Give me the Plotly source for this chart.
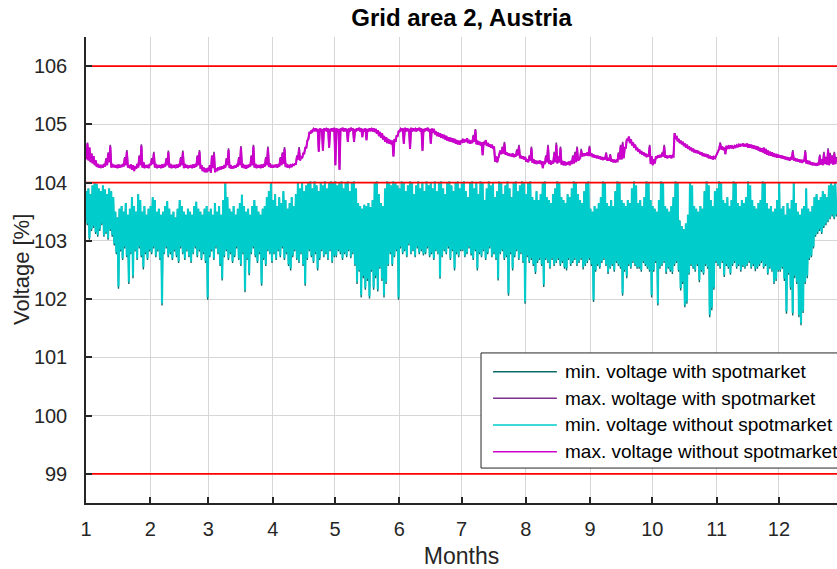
import numpy as np
import plotly.graph_objects as go

# ---------------------------------------------------------------------------
# Axis ticks and limits
# ---------------------------------------------------------------------------
month_start_days = [0, 31, 59, 90, 120, 151, 181, 212, 243, 273, 304, 334]
month_labels = ["1", "2", "3", "4", "5", "6", "7", "8", "9", "10", "11", "12"]
voltage_ticks = [99, 100, 101, 102, 103, 104, 105, 106]
limit_levels = [99, 104, 106]
last_day = 362

series_names = [
    "min. voltage with spotmarket",
    "max. woltage with spotmarket",
    "min. voltage without spotmarket",
    "max. voltage without spotmarket",
]
series_colors = ["#0a6b6b", "#7e2f8e", "#00cccc", "#cc00cc"]
series_widths = [1.4, 1.6, 2.1, 2.1]

# ---------------------------------------------------------------------------
# Daily values [%], one row per month
# ---------------------------------------------------------------------------
# daily highest value of the minimum voltage (both scenarios)
min_top = [
    103.85, 103.9, 103.8, 103.95, 104.0, 103.98, 103.9, 103.85, 103.95, 103.88, 103.8, 103.9, 103.85, 103.75, 103.5, 103.4, 103.55, 103.6, 103.5, 103.65, 103.45, 103.55, 103.75, 103.6, 103.5, 103.8, 103.7, 103.5, 103.6, 103.45, 103.55,
    103.6, 103.75, 103.7, 103.5, 103.55, 103.45, 103.5, 103.6, 103.68, 103.55, 103.45, 103.5, 103.4, 103.55, 103.7, 103.6, 103.5, 103.45, 103.55, 103.5, 103.45, 103.6, 103.67, 103.55, 103.5, 103.45, 103.55, 103.6,
    103.5, 103.55, 103.45, 103.65, 103.5, 103.6, 103.45, 103.7, 103.99, 103.75, 103.55, 103.5, 103.6, 103.45, 103.55, 103.65, 103.79, 103.6, 103.5, 103.55, 103.45, 103.6, 103.7, 103.6, 103.5, 103.45, 103.55, 103.6, 103.75, 103.85, 104.0,
    103.7, 103.8, 103.6, 103.75, 103.65, 103.85, 103.7, 103.55, 103.65, 103.75, 103.6, 103.8, 104.0, 103.9, 104.0, 103.85, 103.95, 104.0, 104.02, 103.9, 104.02, 103.95, 103.85, 104.0, 103.95, 104.02, 103.9, 104.0, 104.02, 104.0,
    104.02, 103.95, 104.0, 104.02, 103.9, 104.0, 104.02, 103.85, 104.0, 104.02, 103.9, 103.65, 103.6, 103.55, 103.62, 103.6, 103.65, 103.58, 103.7, 104.0, 104.02, 103.8, 103.65, 103.6, 103.9, 104.02, 104.0, 103.95, 104.02, 104.0, 103.95,
    103.9, 104.02, 104.0, 103.85, 103.95, 104.02, 104.0, 103.8, 103.95, 104.02, 103.9, 104.0, 103.85, 104.02, 103.95, 104.0, 103.9, 104.02, 103.85, 104.0, 104.02, 103.9, 103.8, 104.0, 104.02, 103.95, 103.85, 104.0, 104.02, 103.9,
    104.0, 104.02, 103.85, 103.75, 104.0, 104.02, 103.9, 104.0, 103.8, 104.02, 104.0, 103.7, 103.9, 104.02, 103.95, 104.0, 103.75, 103.85, 104.02, 104.0, 103.8, 103.95, 104.02, 103.9, 103.75, 104.0, 104.02, 103.85, 103.95, 104.02, 104.0,
    103.8, 104.0, 104.02, 103.75, 103.7, 103.85, 103.7, 103.8, 104.0, 104.02, 103.75, 103.7, 103.65, 103.8, 103.9, 104.02, 104.0, 103.75, 103.7, 103.65, 103.8, 103.75, 103.9, 104.02, 104.0, 103.8, 103.7, 103.65, 103.85, 104.0, 104.02,
    103.55, 103.5, 103.6, 103.55, 103.65, 103.75, 104.02, 104.0, 103.65, 103.6, 103.7, 103.6, 103.85, 104.02, 104.0, 103.7, 103.65, 103.6, 103.7, 103.65, 103.9, 104.02, 103.95, 103.65, 103.7, 103.6, 103.75, 104.02, 104.0, 103.7,
    103.6, 103.55, 103.5, 103.7, 104.02, 104.0, 103.6, 103.55, 103.5, 103.6, 103.75, 104.02, 104.0, 103.35, 103.25, 103.2, 103.3, 103.45, 104.0, 103.95, 103.6, 103.55, 103.5, 103.6, 103.55, 103.85, 104.02, 103.95, 103.7, 103.6, 103.85,
    103.9, 104.02, 104.0, 103.7, 103.65, 103.75, 103.6, 103.7, 104.02, 104.0, 103.65, 103.6, 103.7, 103.65, 103.75, 104.02, 103.95, 103.7, 103.6, 103.55, 103.65, 103.7, 104.02, 104.0, 103.65, 103.55, 103.6, 103.5, 103.55, 103.7,
    104.0, 103.55, 103.6, 103.45, 103.65, 103.55, 103.7, 104.0, 103.65, 103.5, 103.45, 103.55, 103.6, 103.9, 103.55, 103.5, 103.6, 103.75, 103.8, 103.7, 103.75, 103.85, 103.8, 103.75, 103.95, 104.0, 103.95, 104.0,
]

# daily lowest value of the minimum voltage without spotmarket
min_low = [
    103.3, 103.05, 103.2, 103.25, 103.15, 103.1, 103.2, 103.3, 103.1, 103.15, 103.05, 103.2, 103.1, 102.95, 102.8, 102.22, 102.85, 102.7, 102.9, 102.75, 102.3, 102.8, 102.4, 102.85, 102.7, 102.9, 102.75, 102.55, 102.8, 102.7, 102.85,
    102.8, 102.9, 102.75, 102.85, 102.7, 101.93, 102.8, 102.9, 102.75, 102.8, 102.7, 102.85, 102.75, 102.65, 102.9, 102.8, 102.7, 102.85, 102.75, 102.65, 102.8, 102.9, 102.75, 102.85, 102.7, 102.8, 102.65, 102.03,
    102.75, 102.85, 102.7, 102.9, 102.8, 102.6, 102.36, 102.75, 102.85, 102.7, 102.8, 102.65, 102.75, 102.9, 102.7, 102.6, 102.8, 102.16, 102.7, 102.45, 102.8, 102.9, 102.75, 102.65, 102.8, 102.27, 102.7, 102.6, 102.85, 102.8, 102.65,
    102.8, 102.7, 102.85, 102.75, 102.9, 102.7, 102.8, 102.6, 102.53, 102.75, 102.85, 102.7, 102.65, 102.8, 102.6, 102.27, 102.7, 102.85, 102.75, 102.65, 102.8, 102.53, 102.7, 102.85, 102.75, 102.8, 102.7, 102.85, 102.65, 102.75,
    102.75, 102.85, 102.8, 102.7, 102.8, 102.75, 102.85, 102.73, 102.8, 102.6, 102.3, 102.5, 102.07, 102.4, 102.2, 102.35, 102.05, 102.5, 102.2, 102.4, 102.17, 102.55, 102.35, 102.07, 102.3, 102.6, 102.8, 102.6, 102.75, 102.85, 102.03,
    102.9, 102.8, 102.85, 102.75, 102.95, 102.8, 102.85, 102.75, 102.9, 102.8, 102.85, 102.78, 102.8, 102.9, 102.75, 102.8, 102.7, 102.85, 102.8, 102.39, 102.75, 102.85, 102.8, 102.9, 102.7, 102.85, 102.53, 102.8, 102.75, 102.85,
    102.85, 102.75, 102.8, 102.9, 102.78, 102.7, 102.85, 102.53, 102.8, 102.75, 102.85, 102.7, 102.8, 102.9, 102.75, 102.8, 102.7, 102.36, 102.8, 102.85, 102.7, 102.75, 102.1, 102.8, 102.53, 102.75, 102.85, 102.7, 102.8, 102.65, 101.96,
    102.75, 102.65, 102.7, 102.6, 102.47, 102.65, 102.7, 102.6, 102.25, 102.7, 102.65, 102.55, 102.7, 102.6, 102.65, 102.7, 102.6, 102.65, 102.55, 102.53, 102.7, 102.6, 102.65, 102.7, 102.6, 102.65, 102.7, 102.55, 102.6, 102.65, 102.7,
    102.6, 101.99, 102.5, 102.6, 102.55, 102.65, 102.7, 102.6, 102.47, 102.55, 102.6, 102.5, 102.65, 102.6, 102.55, 102.1, 102.5, 102.4, 102.6, 102.55, 102.65, 102.6, 102.55, 102.55, 102.5, 102.65, 102.6, 102.55, 102.5, 102.07,
    102.5, 102.65, 101.93, 102.55, 102.6, 102.65, 102.47, 102.55, 102.5, 102.47, 102.6, 102.65, 102.5, 102.19, 102.3, 101.9, 101.96, 102.45, 102.6, 102.55, 102.5, 102.6, 102.33, 102.5, 102.45, 102.6, 102.55, 101.73, 101.85, 102.2, 102.65,
    102.6, 102.55, 102.65, 102.42, 102.6, 102.55, 102.45, 102.6, 102.65, 102.55, 102.6, 102.5, 102.58, 102.55, 102.6, 102.65, 102.55, 102.6, 102.52, 102.55, 102.6, 102.65, 102.55, 102.6, 102.45, 102.55, 102.5, 102.3, 102.35, 102.5,
    102.5, 102.55, 102.35, 101.79, 102.45, 102.2, 101.76, 102.4, 102.3, 101.73, 101.59, 101.8, 102.3, 102.4, 102.7, 102.75, 102.9, 103.1, 103.15, 103.2, 103.15, 103.25, 103.3, 103.35, 103.4, 103.45, 103.4, 103.45,
]

# daily lowest value of the minimum voltage with spotmarket
min_low_spot = [
    103.27, 103.02, 103.17, 103.22, 103.12, 103.07, 103.17, 103.27, 103.07, 103.12, 103.02, 103.17, 103.07, 102.92, 102.77, 102.18, 102.82, 102.67, 102.87, 102.72, 102.26, 102.77, 102.36, 102.82, 102.67, 102.87, 102.72, 102.51, 102.77, 102.67, 102.82,
    102.77, 102.87, 102.72, 102.82, 102.67, 101.89, 102.77, 102.87, 102.72, 102.77, 102.67, 102.82, 102.72, 102.62, 102.87, 102.77, 102.67, 102.82, 102.72, 102.62, 102.77, 102.87, 102.72, 102.82, 102.67, 102.77, 102.62, 101.99,
    102.72, 102.82, 102.67, 102.87, 102.77, 102.57, 102.32, 102.72, 102.82, 102.67, 102.77, 102.62, 102.72, 102.87, 102.67, 102.57, 102.77, 102.12, 102.67, 102.41, 102.77, 102.87, 102.72, 102.62, 102.77, 102.23, 102.67, 102.57, 102.82, 102.77, 102.62,
    102.77, 102.67, 102.82, 102.72, 102.87, 102.67, 102.77, 102.57, 102.49, 102.72, 102.82, 102.67, 102.62, 102.77, 102.57, 102.23, 102.67, 102.82, 102.72, 102.62, 102.77, 102.49, 102.67, 102.82, 102.72, 102.77, 102.67, 102.82, 102.62, 102.72,
    102.72, 102.82, 102.77, 102.67, 102.77, 102.72, 102.82, 102.7, 102.77, 102.57, 102.26, 102.47, 102.03, 102.36, 102.16, 102.31, 102.01, 102.47, 102.16, 102.36, 102.13, 102.52, 102.31, 102.03, 102.26, 102.57, 102.77, 102.57, 102.72, 102.82, 101.99,
    102.87, 102.77, 102.82, 102.72, 102.92, 102.77, 102.82, 102.72, 102.87, 102.77, 102.82, 102.75, 102.77, 102.87, 102.72, 102.77, 102.67, 102.82, 102.77, 102.35, 102.72, 102.82, 102.77, 102.87, 102.67, 102.82, 102.49, 102.77, 102.72, 102.82,
    102.82, 102.72, 102.77, 102.87, 102.75, 102.67, 102.82, 102.49, 102.77, 102.72, 102.82, 102.67, 102.77, 102.87, 102.72, 102.77, 102.67, 102.32, 102.77, 102.82, 102.67, 102.72, 102.06, 102.77, 102.49, 102.72, 102.82, 102.67, 102.77, 102.62, 101.92,
    102.72, 102.62, 102.67, 102.57, 102.43, 102.62, 102.67, 102.57, 102.21, 102.67, 102.62, 102.52, 102.67, 102.57, 102.62, 102.67, 102.57, 102.62, 102.52, 102.49, 102.67, 102.57, 102.62, 102.67, 102.57, 102.62, 102.67, 102.51, 102.57, 102.62, 102.67,
    102.57, 101.95, 102.47, 102.57, 102.52, 102.62, 102.67, 102.57, 102.43, 102.52, 102.57, 102.47, 102.62, 102.57, 102.52, 102.06, 102.47, 102.36, 102.57, 102.52, 102.62, 102.57, 102.52, 102.52, 102.47, 102.62, 102.57, 102.52, 102.47, 102.03,
    102.47, 102.62, 101.89, 102.52, 102.57, 102.62, 102.43, 102.52, 102.47, 102.43, 102.57, 102.62, 102.47, 102.15, 102.26, 101.86, 101.92, 102.42, 102.57, 102.52, 102.47, 102.57, 102.29, 102.47, 102.42, 102.57, 102.52, 101.69, 101.81, 102.16, 102.62,
    102.57, 102.52, 102.62, 102.38, 102.57, 102.52, 102.42, 102.57, 102.62, 102.52, 102.57, 102.47, 102.55, 102.52, 102.57, 102.62, 102.52, 102.57, 102.48, 102.52, 102.57, 102.62, 102.52, 102.57, 102.42, 102.52, 102.47, 102.26, 102.31, 102.47,
    102.47, 102.52, 102.31, 101.75, 102.42, 102.16, 101.72, 102.36, 102.26, 101.69, 101.55, 101.76, 102.26, 102.36, 102.67, 102.72, 102.87, 103.07, 103.12, 103.17, 103.12, 103.22, 103.27, 103.32, 103.37, 103.42, 103.37, 103.42,
]

# daily base level of the maximum voltage (both scenarios)
max_base = [
    104.4, 104.38, 104.35, 104.33, 104.3, 104.27, 104.26, 104.27, 104.26, 104.28, 104.3, 104.35, 104.26, 104.27, 104.26, 104.25, 104.26, 104.27, 104.28, 104.3, 104.26, 104.25, 104.22, 104.2, 104.24, 104.26, 104.3, 104.26, 104.25, 104.26, 104.25,
    104.3, 104.32, 104.26, 104.25, 104.26, 104.25, 104.26, 104.28, 104.3, 104.26, 104.25, 104.26, 104.25, 104.26, 104.28, 104.3, 104.25, 104.26, 104.25, 104.26, 104.25, 104.26, 104.28, 104.3, 104.24, 104.2, 104.18, 104.18,
    104.2, 104.17, 104.25, 104.18, 104.2, 104.22, 104.23, 104.24, 104.26, 104.3, 104.25, 104.24, 104.25, 104.26, 104.28, 104.3, 104.26, 104.25, 104.24, 104.26, 104.28, 104.3, 104.26, 104.25, 104.26, 104.25, 104.26, 104.28, 104.3, 104.27, 104.26,
    104.26, 104.27, 104.26, 104.28, 104.3, 104.32, 104.27, 104.26, 104.27, 104.28, 104.3, 104.32, 104.4, 104.38, 104.42, 104.5, 104.6, 104.75, 104.84, 104.88, 104.9, 104.88, 104.53, 104.88, 104.55, 104.9, 104.88, 104.6, 104.9, 104.88,
    104.3, 104.88, 104.22, 104.9, 104.88, 104.9, 104.7, 104.88, 104.9, 104.7, 104.88, 104.9, 104.88, 104.78, 104.88, 104.73, 104.88, 104.9, 104.88, 104.87, 104.84, 104.8, 104.77, 104.74, 104.7, 104.68, 104.67, 104.66, 104.45, 104.7, 104.8,
    104.88, 104.9, 104.67, 104.88, 104.9, 104.58, 104.88, 104.9, 104.88, 104.9, 104.88, 104.55, 104.88, 104.9, 104.88, 104.67, 104.86, 104.83, 104.8, 104.79, 104.77, 104.76, 104.74, 104.72, 104.71, 104.7, 104.69, 104.67, 104.66, 104.65,
    104.7, 104.69, 104.7, 104.68, 104.67, 104.68, 104.7, 104.66, 104.65, 104.64, 104.47, 104.66, 104.63, 104.62, 104.6, 104.58, 104.36, 104.35, 104.5, 104.49, 104.5, 104.48, 104.47, 104.46, 104.45, 104.44, 104.45, 104.47, 104.42, 104.41, 104.4,
    104.36, 104.35, 104.38, 104.34, 104.33, 104.32, 104.33, 104.32, 104.25, 104.32, 104.35, 104.32, 104.31, 104.33, 104.35, 104.33, 104.35, 104.31, 104.3, 104.3, 104.31, 104.3, 104.32, 104.33, 104.35, 104.38, 104.42, 104.45, 104.46, 104.47, 104.46,
    104.46, 104.44, 104.43, 104.42, 104.41, 104.4, 104.39, 104.4, 104.38, 104.38, 104.36, 104.35, 104.35, 104.37, 104.4, 104.4, 104.42, 104.6, 104.72, 104.68, 104.64, 104.6, 104.56, 104.53, 104.5, 104.48, 104.46, 104.44, 104.45, 104.32,
    104.3, 104.33, 104.42, 104.43, 104.44, 104.45, 104.43, 104.42, 104.43, 104.42, 104.45, 104.75, 104.71, 104.68, 104.66, 104.63, 104.6, 104.58, 104.56, 104.54, 104.52, 104.51, 104.5, 104.48, 104.46, 104.45, 104.44, 104.42, 104.41, 104.4, 104.42,
    104.5, 104.58, 104.57, 104.56, 104.49, 104.58, 104.6, 104.59, 104.6, 104.61, 104.62, 104.62, 104.63, 104.62, 104.62, 104.6, 104.6, 104.59, 104.58, 104.57, 104.55, 104.53, 104.52, 104.5, 104.48, 104.47, 104.46, 104.45, 104.44, 104.43,
    104.43, 104.42, 104.41, 104.4, 104.39, 104.38, 104.4, 104.38, 104.37, 104.36, 104.35, 104.34, 104.36, 104.33, 104.32, 104.31, 104.3, 104.3, 104.29, 104.3, 104.31, 104.3, 104.32, 104.31, 104.3, 104.33, 104.31, 104.32,
]

# daily peak of the maximum voltage without spotmarket
max_peak = [
    104.67, 104.6, 104.5, 104.45, 104.38, 104.32, 104.3, 104.3, 104.32, 104.4, 104.5, 104.62, 104.32, 104.3, 104.3, 104.31, 104.3, 104.32, 104.42, 104.53, 104.3, 104.31, 104.3, 104.28, 104.32, 104.45, 104.63, 104.35, 104.3, 104.3, 104.32,
    104.4, 104.5, 104.32, 104.3, 104.3, 104.31, 104.3, 104.4, 104.52, 104.32, 104.3, 104.3, 104.31, 104.3, 104.42, 104.52, 104.32, 104.3, 104.29, 104.3, 104.31, 104.3, 104.45, 104.53, 104.3, 104.26, 104.24, 104.25,
    104.3, 104.45, 104.5, 104.24, 104.26, 104.27, 104.28, 104.3, 104.4, 104.56, 104.3, 104.28, 104.29, 104.3, 104.42, 104.6, 104.32, 104.3, 104.3, 104.31, 104.45, 104.62, 104.32, 104.3, 104.3, 104.31, 104.3, 104.42, 104.59, 104.33, 104.3,
    104.3, 104.31, 104.3, 104.42, 104.5, 104.58, 104.32, 104.3, 104.3, 104.31, 104.32, 104.45, 104.58, 104.45, 104.5, 104.6, 104.72, 104.87, 104.9, 104.92, 104.93, 104.92, 104.93, 104.92, 104.93, 104.92, 104.93, 104.92, 104.93, 104.94,
    104.93, 104.92, 104.93, 104.94, 104.93, 104.92, 104.93, 104.94, 104.93, 104.92, 104.93, 104.94, 104.93, 104.92, 104.93, 104.92, 104.93, 104.92, 104.93, 104.92, 104.9, 104.87, 104.85, 104.8, 104.78, 104.75, 104.73, 104.72, 104.75, 104.8, 104.88,
    104.92, 104.93, 104.94, 104.93, 104.92, 104.94, 104.93, 104.92, 104.93, 104.94, 104.93, 104.92, 104.93, 104.94, 104.92, 104.93, 104.92, 104.88, 104.86, 104.85, 104.83, 104.82, 104.8, 104.78, 104.77, 104.76, 104.75, 104.73, 104.72, 104.72,
    104.75, 104.74, 104.76, 104.73, 104.72, 104.8, 104.9, 104.72, 104.7, 104.69, 104.7, 104.73, 104.68, 104.66, 104.65, 104.62, 104.45, 104.42, 104.55, 104.6, 104.67, 104.52, 104.5, 104.49, 104.5, 104.48, 104.55, 104.62, 104.46, 104.45, 104.44,
    104.4, 104.45, 104.59, 104.4, 104.38, 104.37, 104.38, 104.37, 104.36, 104.45, 104.62, 104.38, 104.37, 104.5, 104.65, 104.45, 104.59, 104.37, 104.36, 104.35, 104.36, 104.37, 104.45, 104.5, 104.59, 104.4, 104.55, 104.5, 104.5, 104.52, 104.6,
    104.5, 104.48, 104.47, 104.46, 104.45, 104.44, 104.43, 104.5, 104.42, 104.47, 104.4, 104.39, 104.38, 104.5, 104.62, 104.67, 104.6, 104.75, 104.79, 104.74, 104.69, 104.65, 104.6, 104.57, 104.54, 104.52, 104.5, 104.48, 104.62, 104.45,
    104.4, 104.45, 104.47, 104.46, 104.5, 104.62, 104.47, 104.46, 104.47, 104.46, 104.85, 104.8, 104.75, 104.72, 104.7, 104.67, 104.65, 104.62, 104.6, 104.58, 104.56, 104.55, 104.53, 104.52, 104.5, 104.49, 104.48, 104.46, 104.45, 104.44, 104.46,
    104.55, 104.67, 104.62, 104.6, 104.63, 104.62, 104.64, 104.62, 104.63, 104.64, 104.65, 104.66, 104.67, 104.66, 104.67, 104.66, 104.65, 104.64, 104.63, 104.62, 104.6, 104.59, 104.6, 104.58, 104.55, 104.53, 104.52, 104.5, 104.49, 104.48,
    104.47, 104.46, 104.45, 104.44, 104.43, 104.42, 104.53, 104.42, 104.41, 104.4, 104.39, 104.39, 104.53, 104.38, 104.37, 104.35, 104.34, 104.33, 104.34, 104.45, 104.4, 104.5, 104.42, 104.56, 104.48, 104.45, 104.5, 104.42,
]

# daily peak of the maximum voltage with spotmarket
max_peak_spot = [
    104.69, 104.6, 104.5, 104.45, 104.38, 104.32, 104.3, 104.3, 104.32, 104.42, 104.52, 104.65, 104.32, 104.3, 104.3, 104.31, 104.3, 104.32, 104.44, 104.56, 104.3, 104.31, 104.3, 104.28, 104.32, 104.47, 104.66, 104.35, 104.3, 104.3, 104.32,
    104.42, 104.53, 104.32, 104.3, 104.3, 104.31, 104.3, 104.42, 104.55, 104.32, 104.3, 104.3, 104.31, 104.3, 104.44, 104.55, 104.32, 104.3, 104.29, 104.3, 104.31, 104.3, 104.47, 104.56, 104.3, 104.26, 104.24, 104.25,
    104.3, 104.47, 104.53, 104.24, 104.26, 104.27, 104.28, 104.3, 104.42, 104.59, 104.3, 104.28, 104.29, 104.3, 104.44, 104.63, 104.32, 104.3, 104.3, 104.31, 104.47, 104.65, 104.32, 104.3, 104.3, 104.31, 104.3, 104.44, 104.62, 104.33, 104.3,
    104.3, 104.31, 104.3, 104.44, 104.52, 104.61, 104.32, 104.3, 104.3, 104.31, 104.32, 104.47, 104.61, 104.45, 104.5, 104.6, 104.72, 104.87, 104.9, 104.92, 104.93, 104.92, 104.93, 104.92, 104.93, 104.92, 104.93, 104.92, 104.93, 104.94,
    104.93, 104.92, 104.93, 104.94, 104.93, 104.92, 104.93, 104.94, 104.93, 104.92, 104.93, 104.94, 104.93, 104.92, 104.93, 104.92, 104.93, 104.92, 104.93, 104.92, 104.9, 104.87, 104.85, 104.8, 104.78, 104.75, 104.73, 104.72, 104.75, 104.8, 104.88,
    104.92, 104.93, 104.94, 104.93, 104.92, 104.94, 104.93, 104.92, 104.93, 104.94, 104.93, 104.92, 104.93, 104.94, 104.92, 104.93, 104.92, 104.88, 104.86, 104.85, 104.83, 104.82, 104.8, 104.78, 104.77, 104.76, 104.75, 104.73, 104.72, 104.72,
    104.75, 104.74, 104.76, 104.73, 104.72, 104.82, 104.92, 104.72, 104.7, 104.69, 104.7, 104.73, 104.68, 104.66, 104.65, 104.62, 104.45, 104.42, 104.55, 104.62, 104.7, 104.52, 104.5, 104.49, 104.5, 104.48, 104.57, 104.65, 104.46, 104.45, 104.44,
    104.4, 104.47, 104.62, 104.4, 104.38, 104.37, 104.38, 104.37, 104.36, 104.47, 104.65, 104.38, 104.37, 104.53, 104.69, 104.45, 104.62, 104.37, 104.36, 104.35, 104.36, 104.37, 104.47, 104.53, 104.62, 104.4, 104.58, 104.5, 104.5, 104.52, 104.63,
    104.5, 104.48, 104.47, 104.46, 104.45, 104.44, 104.43, 104.52, 104.42, 104.49, 104.4, 104.39, 104.38, 104.52, 104.65, 104.7, 104.6, 104.75, 104.79, 104.74, 104.69, 104.65, 104.6, 104.57, 104.54, 104.52, 104.5, 104.48, 104.65, 104.45,
    104.4, 104.45, 104.47, 104.46, 104.52, 104.65, 104.47, 104.46, 104.47, 104.46, 104.85, 104.8, 104.75, 104.72, 104.7, 104.67, 104.65, 104.62, 104.6, 104.58, 104.56, 104.55, 104.53, 104.52, 104.5, 104.49, 104.48, 104.46, 104.45, 104.44, 104.46,
    104.55, 104.69, 104.62, 104.6, 104.63, 104.62, 104.64, 104.62, 104.63, 104.64, 104.65, 104.66, 104.67, 104.66, 104.67, 104.66, 104.65, 104.64, 104.63, 104.62, 104.6, 104.59, 104.6, 104.58, 104.55, 104.53, 104.52, 104.5, 104.49, 104.48,
    104.47, 104.46, 104.45, 104.44, 104.43, 104.42, 104.56, 104.42, 104.41, 104.4, 104.39, 104.39, 104.56, 104.38, 104.37, 104.35, 104.34, 104.33, 104.34, 104.48, 104.4, 104.53, 104.44, 104.59, 104.51, 104.47, 104.53, 104.44,
]


def daily_curve(first, second, t_first, t_second):
    """Interleave two daily readings into one time series (time in days)."""
    n = min(len(first), len(second))
    day = np.arange(n, dtype=float)
    x = np.empty(2 * n)
    y = np.empty(2 * n)
    x[0::2] = day + t_first
    x[1::2] = day + t_second
    y[0::2] = np.asarray(first[:n], dtype=float)
    y[1::2] = np.asarray(second[:n], dtype=float)
    return x, y


curves = [
    daily_curve(min_top, min_low_spot, 0.15, 0.65),
    daily_curve(max_base, max_peak_spot, 0.2, 0.7),
    daily_curve(min_top, min_low, 0.15, 0.65),
    daily_curve(max_base, max_peak, 0.2, 0.7),
]

fig = go.Figure()

for (x, y), name, color, width in zip(curves, series_names, series_colors, series_widths):
    fig.add_trace(go.Scatter(
        x=x, y=y, mode="lines", name=name,
        line=dict(color=color, width=width),
        showlegend=False, hoverinfo="skip",
    ))

# voltage limits
for level in limit_levels:
    fig.add_trace(go.Scatter(
        x=[0, last_day], y=[level, level], mode="lines",
        line=dict(color="#ff0000", width=1.8),
        showlegend=False, hoverinfo="skip",
    ))

# ---------------------------------------------------------------------------
# Legend box (drawn in paper coordinates)
# ---------------------------------------------------------------------------
leg_x0, leg_x1 = 0.526, 1.02
leg_y0, leg_y1 = 0.075, 0.322
row_y = [0.2818, 0.2247, 0.1674, 0.1101]
fig.add_shape(type="rect", xref="paper", yref="paper",
              x0=leg_x0, x1=leg_x1, y0=leg_y0, y1=leg_y1,
              fillcolor="white", line=dict(color="#262626", width=1), layer="above")
for ry, name, color in zip(row_y, series_names, series_colors):
    fig.add_shape(type="line", xref="paper", yref="paper",
                  x0=0.542, x1=0.627, y0=ry, y1=ry,
                  line=dict(color=color, width=1.5), layer="above")
    fig.add_annotation(xref="paper", yref="paper", x=0.635, y=ry,
                       xanchor="left", yanchor="middle", showarrow=False,
                       text=name, font=dict(size=19, color="#000000"))

# y axis title, placed left of the tick labels
fig.add_annotation(xref="paper", yref="paper", x=-0.0865, y=0.5,
                   xanchor="center", yanchor="middle", showarrow=False,
                   textangle=-90, text="Voltage [%]",
                   font=dict(size=22, color="#262626"))

font_family = "Liberation Sans, Arial, Helvetica, sans-serif"

fig.update_layout(
    width=837, height=569,
    margin=dict(l=86, r=0, t=37, b=66),
    paper_bgcolor="white", plot_bgcolor="white",
    font=dict(family=font_family, color="#262626"),
    title=dict(text="<b>Grid area 2, Austria</b>", x=0.5, xref="paper",
               xanchor="center", y=0.969, yref="container", yanchor="middle",
               font=dict(size=24, color="#000000")),
    showlegend=False,
)

fig.update_xaxes(
    range=[0, last_day],
    tickmode="array", tickvals=month_start_days, ticktext=month_labels,
    ticks="inside", ticklen=6, tickwidth=1.5, tickcolor="#262626",
    ticklabelstandoff=7,
    tickfont=dict(size=20, color="#262626"),
    showline=True, linecolor="#262626", linewidth=1.5, mirror=False,
    showgrid=True, gridcolor="#d6d6d6", gridwidth=1.3,
    zeroline=False,
    title=dict(text="Months", font=dict(size=23, color="#262626"), standoff=9),
)

fig.update_yaxes(
    range=[98.5, 106.5],
    tickmode="array", tickvals=voltage_ticks,
    ticks="inside", ticklen=6, tickwidth=1.5, tickcolor="#262626",
    ticklabelstandoff=13,
    tickfont=dict(size=20, color="#262626"),
    showline=True, linecolor="#262626", linewidth=1.5, mirror=False,
    showgrid=True, gridcolor="#d6d6d6", gridwidth=1.3,
    zeroline=False,
)

fig.write_html("out.html")
